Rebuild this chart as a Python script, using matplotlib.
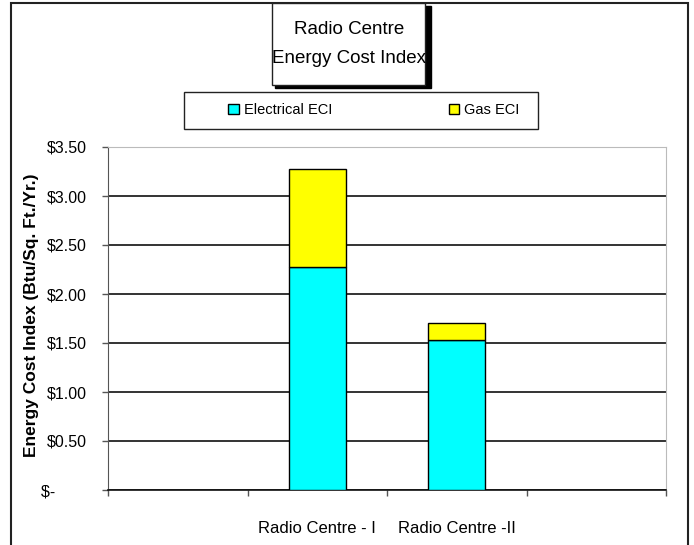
import matplotlib
matplotlib.use("Agg")
import matplotlib.pyplot as plt
from matplotlib import font_manager
from matplotlib.patches import Rectangle

# data
categories = ["", "Radio Centre - I", "Radio Centre -II", ""]
electrical = [0.0, 2.28, 1.53, 0.0]
gas = [0.0, 1.00, 0.17, 0.0]
yticks = [0, 0.5, 1.0, 1.5, 2.0, 2.5, 3.0, 3.5]
ytick_labels = ["$-       ", "$0.50", "$1.00", "$1.50", "$2.00", "$2.50", "$3.00", "$3.50"]

names = {f.name for f in font_manager.fontManager.ttflist}
narrow = "Liberation Sans Narrow" if "Liberation Sans Narrow" in names else "Liberation Sans"
plt.rcParams["font.family"] = [narrow, "DejaVu Sans"]

W, H = 694, 545
fig = plt.figure(figsize=(W / 100, H / 100), dpi=100)


def px(x0, y0, x1, y1):
    # pixel box (top-left origin) -> figure fraction rect
    return [x0 / W, 1 - y1 / H, (x1 - x0) / W, (y1 - y0) / H]


ax = fig.add_axes(px(108, 147, 666, 490))

x = list(range(len(categories)))
bar_w = 0.41
show = [1, 2]
ax.bar([x[i] for i in show], [electrical[i] for i in show], width=bar_w,
       color="#00FFFF", edgecolor="black", linewidth=1.0, label="Electrical ECI", zorder=3)
ax.bar([x[i] for i in show], [gas[i] for i in show], width=bar_w,
       bottom=[electrical[i] for i in show], color="#FFFF00", edgecolor="black",
       linewidth=1.0, label="Gas ECI", zorder=3)

ax.set_xlim(-0.5, len(categories) - 0.5)
ax.set_ylim(0, 3.5)
ax.set_yticks(yticks)
ax.set_yticklabels(ytick_labels, fontsize=11.5)
ax.set_xticks(x)
ax.set_xticklabels(categories, fontsize=12)
ax.set_xticks([i - 0.5 for i in range(len(categories) + 1)], minor=True)
ax.tick_params(axis="x", which="major", length=0, pad=22)
ax.tick_params(axis="x", which="minor", length=4, width=1, color="#555555", direction="out")
ax.tick_params(axis="y", length=4, width=1, color="#555555", pad=11)
ax.grid(axis="y", color="#333333", linewidth=1.4, zorder=1)

ax.spines["top"].set_color("#BBBBBB")
ax.spines["right"].set_color("#BBBBBB")
ax.spines["left"].set_color("#555555")
ax.spines["bottom"].set_color("#111111")
ax.spines["bottom"].set_linewidth(1.2)

fig.text(32 / W, 1 - 315 / H, "Energy Cost Index (Btu/Sq. Ft./Yr.)",
         rotation=90, ha="center", va="center", fontsize=12.5, fontweight="bold",
         family=["Liberation Sans", "DejaVu Sans"])

# outer chart frame
fig.patches.append(Rectangle((11 / W, -0.05), (688 - 11) / W, 1.05 - 3 / H,
                             transform=fig.transFigure, fill=False,
                             edgecolor="#222222", linewidth=1.5))

# title box with shadow
fig.patches.append(Rectangle((275 / W, 1 - 88 / H), (428 - 272) / W, (88 - 6) / H,
                             transform=fig.transFigure, facecolor="black", edgecolor="black"))
fig.patches.append(Rectangle((272 / W, 1 - 85 / H), (425 - 272) / W, (85 - 3) / H,
                             transform=fig.transFigure, facecolor="white",
                             edgecolor="#222222", linewidth=1.0))
fig.text(349 / W, 1 - 44 / H, "Radio Centre\nEnergy Cost Index", ha="center", va="center",
         fontsize=13.5, linespacing=1.95)

# legend box
fig.patches.append(Rectangle((184 / W, 1 - 129 / H), (538 - 184) / W, (129 - 92) / H,
                             transform=fig.transFigure, facecolor="white",
                             edgecolor="#222222", linewidth=1.0))
fig.legend(loc="center", bbox_to_anchor=(374 / W, 1 - 110 / H), ncol=2, frameon=False,
           fontsize=10.5, handlelength=0.7, handleheight=0.7, handletextpad=0.35,
           columnspacing=8.0)

fig.savefig("out.png", dpi=100)
